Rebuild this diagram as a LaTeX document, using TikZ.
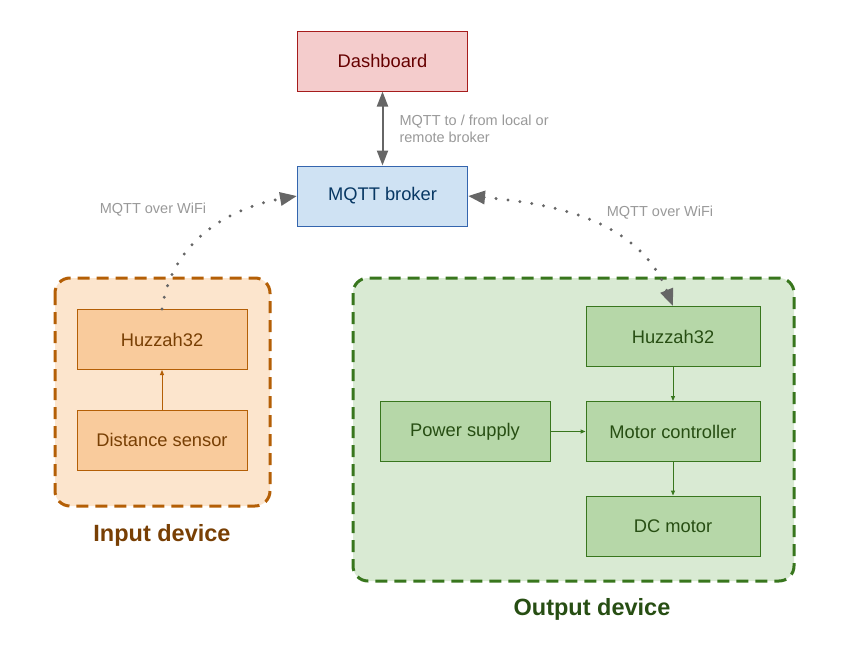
\documentclass[tikz,border=0pt]{standalone}
\usepackage{fontspec}
\setmainfont{Liberation Sans}
\usetikzlibrary{arrows.meta}

\definecolor{dashfill}{HTML}{F4CCCC}
\definecolor{dashdraw}{HTML}{A61C1C}
\definecolor{dashtext}{HTML}{660000}
\definecolor{brokfill}{HTML}{CFE2F3}
\definecolor{brokdraw}{HTML}{3465AE}
\definecolor{broktext}{HTML}{073763}
\definecolor{inbg}{HTML}{FCE5CD}
\definecolor{infill}{HTML}{F9CB9C}
\definecolor{indraw}{HTML}{B45F06}
\definecolor{intext}{HTML}{783F04}
\definecolor{outbg}{HTML}{D9EAD3}
\definecolor{outfill}{HTML}{B6D7A8}
\definecolor{outdraw}{HTML}{38761D}
\definecolor{outtext}{HTML}{274E13}
\definecolor{arrgray}{HTML}{666666}
\definecolor{labgray}{HTML}{999999}

\begin{document}
\begin{tikzpicture}[x=1pt, y=1pt,
    box/.style={draw, line width=1pt, inner sep=0pt, minimum width=170pt, minimum height=60pt,
        font=\fontsize{18.3}{22}\selectfont},
    inbox/.style={box, fill=infill, draw=indraw, text=intext},
    outbox/.style={box, fill=outfill, draw=outdraw, text=outtext},
    group/.style={line width=3pt, dash pattern=on 12pt off 7pt, rounded corners=15pt},
    grouplabel/.style={font=\fontsize{23.5}{28}\selectfont\bfseries},
    note/.style={text=labgray, font=\fontsize{14.5}{17}\selectfont},
    bigtip/.tip={Triangle[length=17pt, width=13pt]},
    wifi/.style={draw=arrgray, line width=3.3pt, line cap=round, dash pattern=on 0pt off 12pt},
    feed/.style={line width=1pt, -{Triangle[length=5pt, width=4pt]}}]
    \useasboundingbox (0,0) rectangle (855,-656);
    \def\bx{382.5}
    \def\lx{162}
    \def\rx{673}

    % top
    \node[box, fill=dashfill, draw=dashdraw, text=dashtext] (dashboard) at (\bx,-61) {Dashboard};
    \node[box, fill=brokfill, draw=brokdraw, text=broktext] (broker) at (\bx,-196) {MQTT broker};
    \draw[arrgray, line width=2pt, {Triangle[length=15pt, width=11pt]}-{Triangle[length=15pt, width=11pt]}]
        (dashboard) -- (broker);
    \node[note, anchor=west, align=left] (toplabel) at (396,-128.5) {MQTT to / from local or\\remote broker};

    % input device
    \draw[group, draw=indraw, fill=inbg] (55,-278) rectangle (270,-506);
    \node[inbox] (inhuzzah) at (\lx,-339.5) {Huzzah32};
    \node[inbox] (distance) at (\lx,-440) {Distance sensor};
    \draw[feed, indraw] (distance) -- (inhuzzah);
    \node[grouplabel, text=intext] (inlabel) at (\lx,-535) {Input device};

    % output device
    \draw[group, draw=outdraw, fill=outbg] (353,-278) rectangle (794,-581);
    \node[outbox, minimum width=174pt] (outhuzzah) at (\rx,-336.5) {Huzzah32};
    \node[outbox, minimum width=174pt] (motor) at (\rx,-431.5) {Motor controller};
    \node[outbox, minimum width=174pt] (dcmotor) at (\rx,-526) {DC motor};
    \node[outbox] (power) at (465,-431.5) {Power supply};
    \draw[feed, outdraw] (outhuzzah) -- (motor);
    \draw[feed, outdraw] (motor) -- (dcmotor);
    \draw[feed, outdraw] (power) -- (motor);
    \node[grouplabel, text=outtext] (outlabel) at (592,-609) {Output device};

    % wifi links
    \draw[wifi, -bigtip] (inhuzzah.north) to[out=82, in=190] (broker.west);
    \node[note] (leftwifi) at (153,-210) {MQTT over WiFi};
    \draw[wifi, bigtip-bigtip] (broker.east) to[out=-5, in=112] (outhuzzah.north);
    \node[note] (rightwifi) at (660,-213) {MQTT over WiFi};
\end{tikzpicture}
\end{document}
